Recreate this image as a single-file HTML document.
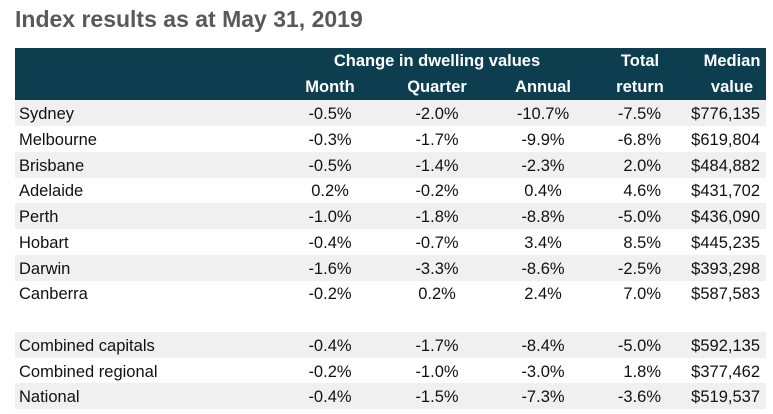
<!DOCTYPE html>
<html><head><meta charset="utf-8"><style>
body{margin:0;width:773px;height:414px;background:#fff;position:relative;overflow:hidden;font-family:"Liberation Sans",sans-serif;}
.t{position:absolute;white-space:nowrap;font-size:16.5px;color:#111;line-height:28px;}
.h{color:#fff;font-weight:bold;font-size:16.5px;position:absolute;white-space:nowrap;}
.row{position:absolute;left:15px;width:751px;height:26px;}
</style></head><body>
<div style="position:absolute;left:15px;top:6px;font-size:23px;font-weight:bold;color:#595959;">Index results as at May 31, 2019</div>
<div style="position:absolute;left:15px;top:48px;width:751px;height:52px;background:#0d3e50;"></div>
<div class="h" style="left:313px;width:248px;text-align:center;top:52px;">Change in dwelling values</div>
<div class="h" style="left:290px;width:80px;text-align:center;top:78px;">Month</div>
<div class="h" style="left:397px;width:80px;text-align:center;top:78px;">Quarter</div>
<div class="h" style="left:503px;width:80px;text-align:center;top:78px;">Annual</div>
<div class="h" style="left:600px;width:80px;text-align:center;top:52px;">Total</div>
<div class="h" style="left:600px;width:80px;text-align:center;top:78px;">return</div>
<div class="h" style="left:690px;width:84px;text-align:center;top:52px;">Median</div>
<div class="h" style="left:690px;width:84px;text-align:center;top:78px;">value</div>
<div id="tbl"></div>
<script>
const regions=["Sydney","Melbourne","Brisbane","Adelaide","Perth","Hobart","Darwin","Canberra","","Combined capitals","Combined regional","National"];
const month=["-0.5%","-0.3%","-0.5%","0.2%","-1.0%","-0.4%","-1.6%","-0.2%","","-0.4%","-0.2%","-0.4%"];
const quarter=["-2.0%","-1.7%","-1.4%","-0.2%","-1.8%","-0.7%","-3.3%","0.2%","","-1.7%","-1.0%","-1.5%"];
const annual=["-10.7%","-9.9%","-2.3%","0.4%","-8.8%","3.4%","-8.6%","2.4%","","-8.4%","-3.0%","-7.3%"];
const totalReturn=["-7.5%","-6.8%","2.0%","4.6%","-5.0%","8.5%","-2.5%","7.0%","","-5.0%","1.8%","-3.6%"];
const median=["$776,135","$619,804","$484,882","$431,702","$436,090","$445,235","$393,298","$587,583","","$592,135","$377,462","$519,537"];
const shaded=[1,0,1,0,1,0,1,0,0,1,0,1];
const tbl=document.getElementById('tbl');
function cell(txt,style,name){
  const d=document.createElement('div');d.className='t';d.textContent=txt;d.style.cssText=style;
  
  
  tbl.appendChild(d);
}
regions.forEach((r,i)=>{
  const top=100+i*25.75;
  if(shaded[i]){
    const b=document.createElement('div');b.className='row';b.style.top=top+'px';b.style.background='#f0f0f0';
    
    
    tbl.appendChild(b);
  }
  if(!r)return;
  const t='top:'+top+'px;';
  cell(r,t+'left:19px;','region-label');
  cell(month[i],t+'left:290px;width:80px;text-align:center;','month-value');
  cell(quarter[i],t+'left:397px;width:80px;text-align:center;','quarter-value');
  cell(annual[i],t+'left:503px;width:80px;text-align:center;','annual-value');
  cell(totalReturn[i],t+'left:560px;width:101px;text-align:right;','total-return-value');
  cell(median[i],t+'left:640px;width:120px;text-align:right;','median-value');
});
</script>
</body></html>
